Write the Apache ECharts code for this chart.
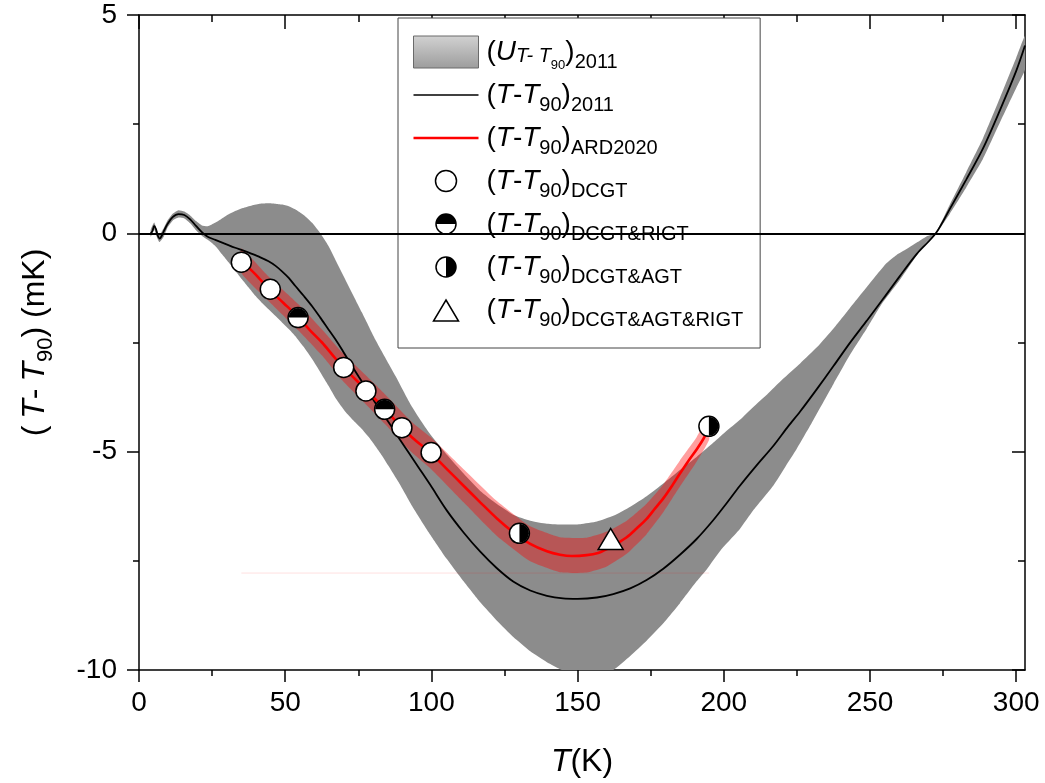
<!DOCTYPE html>
<html><head><meta charset="utf-8">
<script src="https://cdn.jsdelivr.net/npm/echarts@6/dist/echarts.min.js"></script>
<style>html,body{margin:0;padding:0;background:#fff}#c{width:1045px;height:783px}</style>
</head><body><div id="c"></div>
<script>
// ---------------- data ----------------
const xTicksMajor = [0, 50, 100, 150, 200, 250, 300];
const xTicksMinor = [25, 75, 125, 175, 225, 275];

// (T-T90)2011 reference curve
const line2011 = [[4.0,0.0],[4.6,0.05],[5.2,0.17],[5.8,0.1],[6.4,-0.05],[7.0,-0.12],[7.6,-0.08],[8.5,0.05],[9.8,0.22],[11.5,0.37],[13.5,0.44],[15.5,0.42],[17.5,0.32],[19.5,0.17],[21.6,0.02],[23.5,-0.08],[26.1,-0.15],[29.5,-0.24],[32.9,-0.33],[35.5,-0.39],[38.6,-0.47],[41.5,-0.55],[44.3,-0.64],[46.6,-0.74],[48.9,-0.87],[51.2,-1.02],[53.4,-1.2],[56.3,-1.43],[59.2,-1.67],[62,-1.93],[64.8,-2.2],[67.1,-2.42],[69.4,-2.66],[72.2,-2.97],[75.1,-3.28],[78,-3.58],[80.8,-3.88],[83.6,-4.15],[86.3,-4.42],[89.2,-4.72],[92.2,-5.02],[95.5,-5.35],[99.6,-5.76],[105.3,-6.35],[111,-6.85],[116.7,-7.29],[122.4,-7.67],[128.1,-7.98],[133.8,-8.18],[139.5,-8.3],[145,-8.36],[150,-8.37],[156.6,-8.34],[162.2,-8.26],[168,-8.13],[173.6,-7.94],[179.3,-7.68],[185,-7.36],[190.7,-7.0],[196,-6.6],[200.5,-6.22],[205.5,-5.78],[211,-5.33],[216.9,-4.87],[222,-4.42],[226.1,-4.08],[232,-3.55],[237.5,-3.04],[243,-2.52],[248.9,-2.0],[254.5,-1.5],[260.2,-0.98],[266,-0.47],[272.5,0.0],[277.3,0.56],[282.9,1.23],[288.6,1.94],[294.3,2.8],[300,3.72],[303,4.3]];

// (U T-T90)2011 uncertainty band edges
const grayUpper = [[4.0,0.08],[5.2,0.25],[6.2,0.06],[7.0,-0.04],[8.5,0.13],[9.8,0.3],[11.5,0.45],[13.5,0.53],[15.5,0.5],[17.5,0.41],[19.5,0.28],[21.5,0.18],[23.5,0.16],[26,0.24],[28.4,0.34],[30.5,0.43],[32.9,0.51],[35.5,0.58],[38.6,0.64],[41.5,0.68],[44.3,0.69],[46.6,0.68],[48.9,0.66],[51.2,0.62],[53.4,0.55],[56.3,0.42],[59.2,0.24],[62,0.0],[64.8,-0.29],[67.5,-0.65],[70.5,-1.05],[73.5,-1.45],[76.2,-1.81],[78.5,-2.12],[80.8,-2.43],[83,-2.7],[85.3,-2.98],[88,-3.3],[90.5,-3.62],[93,-3.93],[96,-4.25],[99.6,-4.6],[103,-4.88],[105.3,-5.07],[111,-5.5],[116.7,-5.9],[122.4,-6.2],[128.1,-6.45],[133.8,-6.58],[139.5,-6.65],[145.1,-6.67],[150.9,-6.66],[156.6,-6.6],[162.2,-6.47],[168,-6.26],[173.6,-6.02],[179.3,-5.73],[185,-5.42],[190.7,-5.12],[196,-4.82],[200.5,-4.55],[205.5,-4.27],[210,-3.98],[214.8,-3.69],[220,-3.35],[226.1,-2.98],[232,-2.6],[237.5,-2.18],[243,-1.72],[248.9,-1.23],[252.5,-0.93],[255.7,-0.68],[259,-0.5],[262.5,-0.36],[266,-0.21],[269.3,-0.07],[272.5,0.02],[277.3,0.66],[282.9,1.4],[288.6,2.17],[294.3,3.08],[300,4.02],[303,4.52]];
const grayLower = [[4.0,-0.08],[5.2,0.09],[6.2,-0.1],[7.0,-0.2],[8.5,-0.07],[9.8,0.14],[11.5,0.29],[13.5,0.36],[15.5,0.34],[17.5,0.23],[19.5,0.07],[21.6,-0.06],[24,-0.17],[26.1,-0.29],[28.4,-0.48],[30.7,-0.67],[33,-0.86],[35.2,-1.05],[37.5,-1.24],[39.8,-1.43],[42,-1.59],[44.3,-1.74],[46.6,-1.89],[48.9,-2.04],[51.2,-2.19],[53.4,-2.35],[56.3,-2.6],[59.2,-2.88],[62,-3.18],[64.8,-3.49],[67.5,-3.8],[70.5,-4.08],[73.5,-4.3],[76.2,-4.48],[78.5,-4.66],[80.8,-4.87],[83,-5.08],[85.3,-5.32],[88.8,-5.7],[93.9,-6.3],[99.6,-6.9],[105.3,-7.46],[111,-7.97],[116.7,-8.45],[122.4,-8.87],[128.1,-9.25],[133.8,-9.57],[139.5,-9.82],[144.6,-10.0],[150,-10.15],[156,-10.15],[162.2,-10.0],[168,-9.68],[173.6,-9.33],[179.3,-8.93],[185,-8.47],[190.7,-7.97],[194.2,-7.69],[199,-7.25],[205.5,-6.77],[210,-6.35],[216.9,-5.78],[221,-5.35],[224.9,-4.94],[230,-4.35],[237.5,-3.45],[243,-2.8],[248.9,-2.18],[254,-1.62],[260.2,-1.07],[265,-0.6],[269.3,-0.2],[272.5,-0.02],[277.3,0.45],[282.9,1.05],[288.6,1.7],[294.3,2.52],[300,3.33],[303,3.75]];

// (T-T90)ARD2020 and its uncertainty band
const lineARD = [[35,-0.63],[40,-0.95],[44.3,-1.27],[49.5,-1.6],[54.6,-1.93],[58.5,-2.22],[62.6,-2.5],[66,-2.77],[69.4,-3.04],[73.5,-3.31],[77.4,-3.57],[80.8,-3.8],[84.2,-4.03],[88.2,-4.33],[93.5,-4.68],[99.6,-5.02],[105.3,-5.4],[111,-5.78],[116.7,-6.16],[122.4,-6.53],[128.1,-6.85],[133.8,-7.11],[139.5,-7.28],[144,-7.36],[148,-7.39],[153.1,-7.37],[157,-7.32],[160,-7.23],[163.5,-7.1],[166.8,-6.96],[170,-6.77],[173.6,-6.54],[176.5,-6.3],[179.3,-6.07],[182.5,-5.76],[185,-5.5],[188,-5.2],[190.7,-4.95],[193,-4.71],[195,-4.45]];
const ardUpper = [[35,-0.35],[44.3,-0.99],[54.6,-1.63],[62.6,-2.2],[69.4,-2.72],[77.4,-3.24],[84.2,-3.69],[93.5,-4.33],[99.6,-4.66],[111,-5.4],[122.4,-6.13],[133.8,-6.71],[144,-6.96],[153.1,-6.97],[160,-6.83],[166.8,-6.58],[173.6,-6.19],[179.3,-5.75],[185,-5.2],[190.7,-4.67],[195,-4.18]];
const ardLower = [[35,-0.91],[44.3,-1.55],[54.6,-2.23],[62.6,-2.8],[69.4,-3.36],[77.4,-3.9],[84.2,-4.37],[93.5,-5.03],[99.6,-5.38],[111,-6.16],[122.4,-6.93],[133.8,-7.51],[144,-7.76],[153.1,-7.77],[160,-7.63],[166.8,-7.34],[173.6,-6.89],[179.3,-6.39],[185,-5.8],[190.7,-5.23],[195,-4.72]];

// measured points
const ptsDCGT = [[35,-0.66],[44.9,-1.28],[70,-3.07],[77.6,-3.61],[89.9,-4.45],[99.9,-5.02]];
const ptsDCGT_RIGT = [[54.4,-1.93],[84,-4.03]];
const ptsDCGT_AGT = [[130.1,-6.87],[194.9,-4.42]];
const ptsDCGT_AGT_RIGT = [[161.3,-7.0]];

// faint stray line seen in the figure
const faintLine = [[35,-7.78],[195,-7.78]];

const legendLabels = {
  'U2011': '{m0|(}{mi|U}{su|T- T}{ss|90}{m|)}{s|2011}',
  'T2011': '{m0|(}{mi|T}{m|-}{mi|T}{s|90}{m|)}{s|2011}',
  'ARD2020': '{m0|(}{mi|T}{m|-}{mi|T}{s|90}{m|)}{s|ARD2020}',
  'DCGT': '{m0|(}{mi|T}{m|-}{mi|T}{s|90}{m|)}{s|DCGT}',
  'DCGT&RIGT': '{m0|(}{mi|T}{m|-}{mi|T}{s|90}{m|)}{s|DCGT&RIGT}',
  'DCGT&AGT': '{m0|(}{mi|T}{m|-}{mi|T}{s|90}{m|)}{s|DCGT&AGT}',
  'DCGT&AGT&RIGT': '{m0|(}{mi|T}{m|-}{mi|T}{s|90}{m|)}{s|DCGT&AGT&RIGT}'
};

// ---------------- chart ----------------
const F = 'Liberation Sans, Arial, sans-serif';
const chart = echarts.init(document.getElementById('c'), null, {renderer: 'canvas'});

function bandRender(upper, lower, fill, smooth) {
  return function (params, api) {
    if (params.dataIndex !== 0) return null;
    const pts = upper.map(p => api.coord(p)).concat(lower.slice().reverse().map(p => api.coord(p)));
    return {type: 'polygon', shape: {points: pts, smooth: smooth}, style: {fill: fill}};
  };
}

const ring = 'M5.25,16 A10.75,10.75 0 1 1 26.75,16 A10.75,10.75 0 1 1 5.25,16 Z M6.75,16 A9.25,9.25 0 1 0 25.25,16 A9.25,9.25 0 1 0 6.75,16 Z ';
const iconTopHalf = 'path://M0,0 M32,32 ' + ring + 'M6.75,16 A9.25,9.25 0 0 1 25.25,16 Z';
const iconRightHalf = 'path://M0,0 M32,32 ' + ring + 'M16,6.75 A9.25,9.25 0 0 1 16,25.25 Z';
const iconCircle = 'path://M0,0 M32,32 M5.5,16 A10.5,10.5 0 1 1 26.5,16 A10.5,10.5 0 1 1 5.5,16 Z';
const iconTriangle = 'path://M0,0 M32,32 M16,6 L28.5,27 L3.5,27 Z';
const symTopHalf = 'path://M0,0 M20,20 M0.5,10 A9.5,9.5 0 0 1 19.5,10 Z';
const symRightHalf = 'path://M0,0 M20,20 M10,0.5 A9.5,9.5 0 0 1 10,19.5 Z';

const axisCommon = {min: 0, max: 303, type: 'value', splitLine: {show: false}};
const black = {color: '#000', width: 1.5};

const option = {
  animation: false,
  backgroundColor: '#fff',
  textStyle: {fontFamily: F, color: '#000'},
  grid: {left: 139, right: 20, top: 15, bottom: 113, containLabel: false},
  xAxis: [
    Object.assign({}, axisCommon, {
      position: 'bottom',
      axisLine: {show: true, onZero: false, lineStyle: black},
      axisTick: {show: true, inside: false, length: 12, customValues: xTicksMajor, lineStyle: black},
      axisLabel: {show: true, customValues: xTicksMajor, fontSize: 28, margin: 19, color: '#000', fontFamily: F},
      name: '{xi|T}{x|(K)}', nameLocation: 'middle', nameGap: 75,
      nameTextStyle: {rich: {
        xi: {fontSize: 32, lineHeight: 34, fontStyle: 'italic', fontFamily: F, color: '#000'},
        x: {fontSize: 32, lineHeight: 34, fontFamily: F, color: '#000'}
      }}
    }),
    Object.assign({}, axisCommon, {
      position: 'bottom',
      axisLine: {show: false, onZero: false},
      axisTick: {show: true, inside: false, length: 6, customValues: xTicksMinor, lineStyle: black},
      axisLabel: {show: false}
    }),
    Object.assign({}, axisCommon, {
      position: 'top',
      axisLine: {show: true, onZero: false, lineStyle: black},
      axisTick: {show: true, inside: true, length: 14, customValues: xTicksMajor, lineStyle: black},
      axisLabel: {show: false}
    }),
    Object.assign({}, axisCommon, {
      position: 'top',
      axisLine: {show: false, onZero: false},
      axisTick: {show: true, inside: true, length: 7, customValues: xTicksMinor, lineStyle: black},
      axisLabel: {show: false}
    })
  ],
  yAxis: [
    {
      type: 'value', min: -10, max: 5, interval: 5, position: 'left',
      axisLine: {show: true, onZero: false, lineStyle: black},
      axisTick: {show: true, inside: false, length: 12, lineStyle: black},
      minorTick: {show: true, splitNumber: 2, length: 6, lineStyle: black},
      axisLabel: {fontSize: 28, margin: 22, color: '#000', fontFamily: F},
      splitLine: {show: false}, minorSplitLine: {show: false},
      name: '{nm|(}{nmi|T}{nm|-}{nmi2|T}{ns|90}{nm|) (mK)}', nameLocation: 'middle', nameGap: 87, nameRotate: 90,
      nameTextStyle: {rich: {
        nm: {fontSize: 32, lineHeight: 34, fontFamily: F, color: '#000'},
        nmi: {fontSize: 32, lineHeight: 34, fontStyle: 'italic', fontFamily: F, color: '#000', padding: [0, 0, 0, 7]},
        nmi2: {fontSize: 32, lineHeight: 34, fontStyle: 'italic', fontFamily: F, color: '#000', padding: [0, 0, 0, 7]},
        ns: {fontSize: 22, lineHeight: 22, fontFamily: F, color: '#000', padding: [22, 0, 0, 0]}
      }}
    },
    {
      type: 'value', min: -10, max: 5, interval: 5, position: 'right',
      axisLine: {show: true, onZero: false, lineStyle: black},
      axisTick: {show: true, inside: true, length: 13, lineStyle: black},
      minorTick: {show: true, splitNumber: 2, length: 7, lineStyle: black},
      axisLabel: {show: false},
      splitLine: {show: false}, minorSplitLine: {show: false}
    }
  ],
  legend: {
    orient: 'vertical', left: 398, top: 18,
    padding: [14, 17, 18, 15],
    itemWidth: 65, itemHeight: 32, itemGap: 3,
    backgroundColor: '#fff', borderColor: '#444', borderWidth: 1,
    selectedMode: false,
    formatter: function (n) { return legendLabels[n]; },
    textStyle: {
      fontFamily: F, color: '#000',
      rich: {
        m0: {fontSize: 28, lineHeight: 30, fontFamily: F, color: '#000', verticalAlign: 'middle', padding: [0, 0, 0, 3]},
        m: {fontSize: 28, lineHeight: 30, fontFamily: F, color: '#000', verticalAlign: 'middle'},
        mi: {fontSize: 28, lineHeight: 30, fontFamily: F, color: '#000', fontStyle: 'italic', verticalAlign: 'middle'},
        s: {fontSize: 20, lineHeight: 20, fontFamily: F, color: '#000', verticalAlign: 'middle', padding: [20, 0, 0, 0]},
        su: {fontSize: 20, lineHeight: 20, fontFamily: F, color: '#000', fontStyle: 'italic', verticalAlign: 'middle', padding: [8, 0, 0, 0]},
        ss: {fontSize: 13, lineHeight: 13, fontFamily: F, color: '#000', verticalAlign: 'middle', padding: [26, 0, 0, 0]}
      }
    },
    data: [
      {name: 'U2011', icon: 'rect', itemStyle: {color: {type: 'linear', x: 0, y: 0, x2: 0, y2: 1, colorStops: [{offset: 0, color: '#d2d2d2'}, {offset: 1, color: '#9c9c9c'}]}, borderColor: '#6a6a6a', borderWidth: 1}},
      {name: 'T2011', icon: 'path://M0,0 H65 V1.5 H0 Z', itemStyle: {color: '#000', borderWidth: 0}},
      {name: 'ARD2020', icon: 'path://M0,0 H65 V2.6 H0 Z', itemStyle: {color: '#ff0000', borderWidth: 0}},
      {name: 'DCGT', icon: iconCircle, itemStyle: {color: '#fff', borderColor: '#000', borderWidth: 1.5}},
      {name: 'DCGT&RIGT', icon: iconTopHalf, itemStyle: {color: '#000', borderWidth: 0}},
      {name: 'DCGT&AGT', icon: iconRightHalf, itemStyle: {color: '#000', borderWidth: 0}},
      {name: 'DCGT&AGT&RIGT', icon: iconTriangle, itemStyle: {color: '#fff', borderColor: '#000', borderWidth: 1.5}}
    ]
  },
  series: [
    {name: 'U2011', type: 'custom', data: grayUpper, encode: {x: 0, y: 1}, clip: true,
     itemStyle: {color: '#8c8c8c'}, renderItem: bandRender(grayUpper, grayLower, '#8c8c8c', 0.15), silent: true, z: 1},
    {name: 'ARD2020', type: 'custom', data: ardUpper, encode: {x: 0, y: 1}, clip: true,
     itemStyle: {color: '#ff0000'}, renderItem: bandRender(ardUpper, ardLower, 'rgba(255,0,0,0.38)', 0.15), silent: true, z: 1},
    {name: 'stray', type: 'line', data: faintLine, showSymbol: false, silent: true, z: 2,
     lineStyle: {color: 'rgba(255,0,0,0.12)', width: 1}},
    {name: 'T2011', type: 'line', data: line2011, showSymbol: false, smooth: 0.3, z: 3,
     itemStyle: {color: '#000'}, lineStyle: {color: '#000', width: 1.8},
     markLine: {silent: true, symbol: ['none', 'none'], label: {show: false},
       lineStyle: {color: '#000', width: 2, type: 'solid'}, data: [{yAxis: 0}]}},
    {name: 'ARD2020', type: 'line', data: lineARD, showSymbol: false, smooth: 0.3, z: 4,
     itemStyle: {color: '#ff0000'}, lineStyle: {color: '#ff0000', width: 2.6}},
    {name: 'DCGT', type: 'scatter', data: ptsDCGT, symbol: 'circle', symbolSize: 20, z: 5,
     itemStyle: {color: '#fff', borderColor: '#000', borderWidth: 1.5, opacity: 1}},
    {name: 'DCGT&RIGT', type: 'scatter', data: ptsDCGT_RIGT, symbol: 'circle', symbolSize: 20, z: 5,
     itemStyle: {color: '#fff', borderColor: '#000', borderWidth: 1.5, opacity: 1}},
    {name: 'DCGT&RIGT', type: 'scatter', data: ptsDCGT_RIGT, symbol: symTopHalf, symbolSize: 20, z: 6,
     itemStyle: {color: '#000', borderWidth: 0, opacity: 1}},
    {name: 'DCGT&AGT', type: 'scatter', data: ptsDCGT_AGT, symbol: 'circle', symbolSize: 20, z: 5,
     itemStyle: {color: '#fff', borderColor: '#000', borderWidth: 1.5, opacity: 1}},
    {name: 'DCGT&AGT', type: 'scatter', data: ptsDCGT_AGT, symbol: symRightHalf, symbolSize: 20, z: 6,
     itemStyle: {color: '#000', borderWidth: 0, opacity: 1}},
    {name: 'DCGT&AGT&RIGT', type: 'scatter', data: ptsDCGT_AGT_RIGT, symbol: 'triangle', symbolSize: [25, 21], z: 5,
     itemStyle: {color: '#fff', borderColor: '#000', borderWidth: 1.5, opacity: 1}}
  ]
};
chart.setOption(option);
</script>
</body></html>
